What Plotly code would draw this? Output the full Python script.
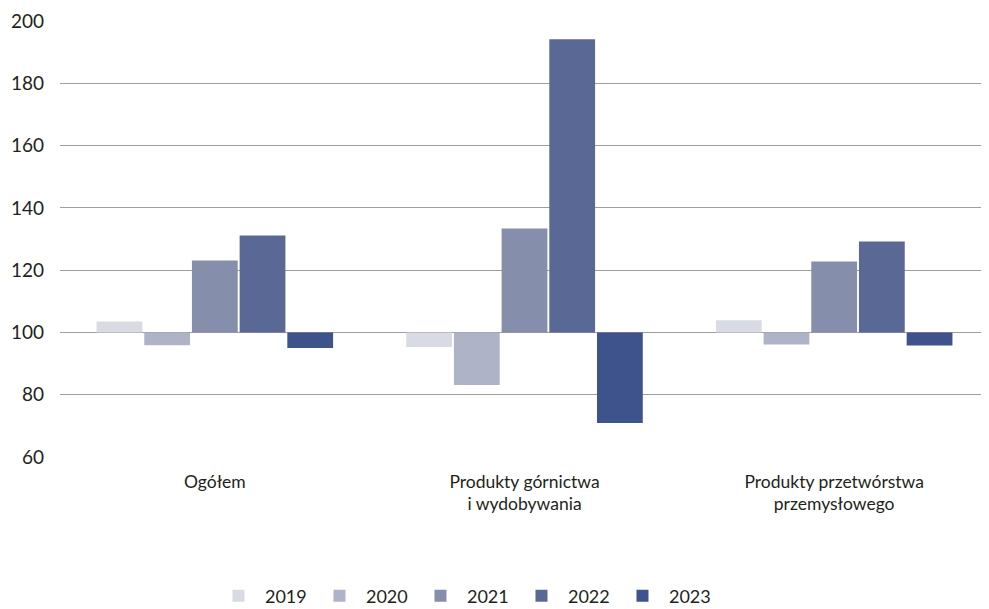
import plotly.graph_objects as go

categories = ["Ogółem", "Produkty górnictwa<br>i wydobywania", "Produkty przetwórstwa<br>przemysłowego"]
years = ["2019", "2020", "2021", "2022", "2023"]
values = {
    "2019": [103.5, 95.3, 103.9],
    "2020": [95.9, 83.1, 96.1],
    "2021": [123.1, 133.4, 122.8],
    "2022": [131.1, 194.1, 129.2],
    "2023": [95.0, 70.9, 95.8],
}
colors = ["#d8dbe4", "#aeb3c7", "#858eab", "#5a6896", "#3e528c"]
base_value = 100
y_ticks = [60, 80, 100, 120, 140, 160, 180, 200]

fig = go.Figure()
for yr, col in zip(years, colors):
    fig.add_trace(go.Bar(
        x=categories,
        y=[v - base_value for v in values[yr]],
        base=base_value,
        name=yr,
        marker=dict(color=col, line=dict(width=0)),
    ))

# page body has an 8px margin, so the figure is 8px smaller than the window
fig.update_layout(
    width=981, height=601,
    barmode="group", bargap=0.23, bargroupgap=0.04,
    plot_bgcolor="white", paper_bgcolor="white",
    margin=dict(l=52, r=0, t=13, b=152, autoexpand=False),
    font=dict(family="Lato", size=17.5, color="#231f20"),
    legend=dict(orientation="h", x=0.4354, xanchor="center", y=-0.319, yanchor="middle",
                font=dict(size=18), entrywidth=43, itemwidth=43),
    xaxis=dict(showgrid=False, showline=False, ticks="", tickfont=dict(size=17.5),
               automargin=False, ticklabelstandoff=12),
    yaxis=dict(range=[60, 200], tickvals=y_ticks, showgrid=True, gridcolor="#9e9e9e",
               gridwidth=1, zeroline=False, showline=False, ticks="", automargin=False,
               tickfont=dict(size=19), ticklabelstandoff=15),
)
fig.write_html("out.html")
